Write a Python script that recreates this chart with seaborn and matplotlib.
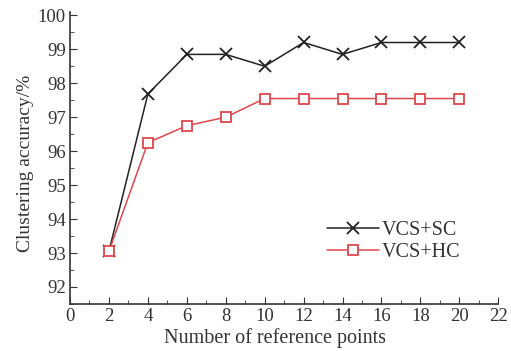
import numpy as np
import pandas as pd
import matplotlib
matplotlib.use("Agg")
import matplotlib.pyplot as plt
from matplotlib.ticker import MultipleLocator
import seaborn as sns

ref_points = [2, 4, 6, 8, 10, 12, 14, 16, 18, 20]
vcs_sc = [93.05, 97.68, 98.85, 98.85, 98.5, 99.2, 98.85, 99.2, 99.2, 99.2]
vcs_hc = [93.05, 96.25, 96.75, 97.0, 97.55, 97.55, 97.55, 97.55, 97.55, 97.55]

sns.set_style("ticks")
plt.rcParams["font.family"] = ["Liberation Serif", "DejaVu Serif"]

fig = plt.figure(figsize=(5.11, 3.51), dpi=100)
ax = fig.add_axes([0.137, 0.134, 0.838, 0.832])

# black line with x markers
sns.lineplot(x=ref_points, y=vcs_sc, color="#222222", marker="x",
             markersize=8.5, markeredgewidth=1.3, markeredgecolor="#222222",
             linewidth=1.1, label="VCS+SC", ax=ax)
# red line with open squares
sns.lineplot(x=ref_points, y=vcs_hc, color="#e0474c", marker="s",
             markersize=6.5, markerfacecolor="white", markeredgecolor="#e0474c",
             markeredgewidth=1.3, linewidth=1.1, label="VCS+HC", ax=ax)

ax.set_xlim(0, 22)
ax.set_ylim(91.5, 100.1)
ax.xaxis.set_major_locator(MultipleLocator(2))
ax.xaxis.set_minor_locator(MultipleLocator(1))
ax.yaxis.set_major_locator(MultipleLocator(1))
ax.yaxis.set_minor_locator(MultipleLocator(0.5))
ax.tick_params(which="both", direction="in", labelsize=13.5, color="#333333",
               labelcolor="#333333")
ax.tick_params(which="major", length=5, pad=3)
ax.tick_params(which="minor", length=3)
sns.despine(ax=ax)
for s in ["left", "bottom"]:
    ax.spines[s].set_linewidth(1.2)
    ax.spines[s].set_color("#333333")

ax.set_xlabel("Number of reference points", fontsize=14.5,
              color="#333333")
ax.xaxis.set_label_coords(0.479, -0.082)
ax.set_ylabel("Clustering accuracy/%", fontsize=14, color="#333333")
ax.yaxis.set_label_coords(-0.083, 0.48)

ax.legend(loc="lower right", bbox_to_anchor=(0.955, 0.08),
          frameon=False, fontsize=14.5, handlelength=2.6, handletextpad=0.15,
          labelspacing=0.15, labelcolor="#333333")

fig.savefig("out.png", dpi=100)
